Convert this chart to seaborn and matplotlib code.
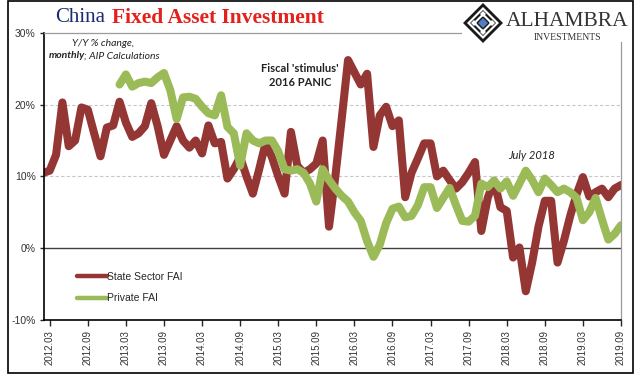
import numpy as np
import pandas as pd
import matplotlib
matplotlib.use("Agg")
import matplotlib.pyplot as plt
from matplotlib.patches import Polygon, Rectangle
from matplotlib.lines import Line2D
import seaborn as sns

# months counted from 2012.03 (=0); series starts 2012.02
month_idx = list(range(-1, 91))

state_fai = [10.5, 10.8, 13.0, 20.3, 14.2, 15.0, 19.6, 19.3, 16.0, 12.8,
             16.8, 17.1, 20.4, 17.5, 15.5, 16.0, 17.0, 20.2, 17.0, 13.0,
             15.0, 17.0, 15.0, 14.0, 15.0, 13.2, 17.1, 14.6, 14.8, 9.7,
             11.0, 12.7, 10.0, 7.6, 11.0, 14.6, 12.7, 10.0, 7.6, 16.2,
             11.5, 10.5, 11.0, 11.8, 15.0, 3.0, 10.0, 18.0, 26.2, 24.5,
             22.8, 24.3, 14.1, 18.5, 19.7, 17.0, 17.8, 7.1, 10.5, 12.5,
             14.6, 14.6, 10.0, 10.8, 9.5, 8.3, 9.2, 10.5, 12.0, 2.4,
             7.0, 9.4, 5.7, 5.2, -1.3, 0.1, -6.0, -2.0, 3.0, 6.6,
             6.6, -2.0, 1.0, 4.5, 7.5, 9.9, 7.2, 7.8, 8.3, 7.1,
             8.3, 8.8]

private_fai = [None] * 12 + [
    22.8, 24.2, 22.5, 23.0, 23.2, 23.0, 23.8, 24.4, 22.0, 18.0,
    21.0, 21.1, 20.8, 19.7, 18.8, 18.5, 21.3, 16.9, 16.0, 11.5,
    16.0, 15.0, 14.6, 15.0, 15.0, 13.5, 11.0, 10.8, 11.0, 10.5,
    9.0, 6.5, 11.0, 9.5, 8.3, 7.3, 6.5, 5.0, 3.8, 1.0,
    -1.2, 0.5, 3.5, 5.5, 5.8, 4.3, 4.5, 6.0, 8.5, 8.5,
    5.6, 7.0, 8.4, 6.0, 3.8, 3.7, 4.5, 9.0, 8.5, 9.4,
    8.3, 9.3, 7.3, 9.0, 10.8, 9.5, 7.8, 9.7, 8.8, 7.8,
    8.3, 7.8, 7.0, 3.9, 5.0, 7.0, 4.0, 1.2, 2.0, 3.2]

tick_months = list(range(0, 91, 6))
tick_labels = ["2012.03", "2012.09", "2013.03", "2013.09", "2014.03",
               "2014.09", "2015.03", "2015.09", "2016.03", "2016.09",
               "2017.03", "2017.09", "2018.03", "2018.09", "2019.03",
               "2019.09"]
y_ticks = [-10, 0, 10, 20, 30]
y_labels = ["-10%", "0%", "10%", "20%", "30%"]

RED = "#943634"
GREEN = "#9BBB59"

W, H = 640, 380


def fx(x):
    return x / W


def fy(y):
    return 1 - y / H


sns.set_style("white")
plt.rcParams["font.family"] = ["Liberation Sans", "DejaVu Sans"]

df = pd.DataFrame({
    "month": month_idx,
    "State Sector FAI": pd.array(state_fai, dtype="Float64"),
    "Private FAI": pd.array(private_fai, dtype="Float64"),
})
long_df = df.melt("month", var_name="series", value_name="value").dropna()
long_df["value"] = long_df["value"].astype(float)

fig = plt.figure(figsize=(6.4, 3.8), dpi=100)
ax = fig.add_axes([fx(44), fy(320), 577 / W, 287.2 / H])

sns.lineplot(data=long_df, x="month", y="value", hue="series",
             palette={"State Sector FAI": RED, "Private FAI": GREEN},
             linewidth=5.8, ax=ax, legend=False, estimator=None, sort=False)
for ln in ax.lines:
    ln.set_solid_joinstyle("round")
    ln.set_solid_capstyle("round")

ax.set_xlim(-0.9, 90)
ax.set_ylim(-10, 30)
ax.set_xlabel("")
ax.set_ylabel("")

# grid and zero line
for v in [10, 20]:
    ax.axhline(v, color="#c8c8c8", lw=0.8, ls=(0, (3, 2)), zorder=0)
ax.axhline(0, color="#404040", lw=1.0, zorder=1)

for side in ["left", "bottom"]:
    ax.spines[side].set_color("black")
    ax.spines[side].set_linewidth(1.2)
for side in ["top", "right"]:
    ax.spines[side].set_color("#9a9a9a")
    ax.spines[side].set_linewidth(0.9)

ax.set_yticks(y_ticks)
ax.set_yticklabels(y_labels, fontsize=7.5, color="#333333")
ax.set_xticks(tick_months)
ax.set_xticklabels(tick_labels, rotation=90, fontsize=7, color="#333333")
ax.tick_params(axis="y", direction="out", length=3, width=1, pad=3,
               left=True)
ax.tick_params(axis="x", direction="out", length=4, width=1, pad=3,
               bottom=True)

# legend
handles = [Line2D([], [], color=RED, lw=3.2),
           Line2D([], [], color=GREEN, lw=3.2)]
ax.legend(handles, ["State Sector FAI", "Private FAI"], loc="upper left",
          bbox_to_anchor=(0.057, 0.168), frameon=False, fontsize=7.5,
          handlelength=2.9, handletextpad=0.0, labelspacing=1.1,
          borderpad=0, borderaxespad=0)

# annotations
ann = ["Lato", "DejaVu Sans"]
fig.text(fx(103), fy(43), "Y/Y % change,", ha="center", va="center",
         fontsize=7.5, style="italic", family=ann, color="#222222")
fig.text(fx(49), fy(56), "monthly", ha="left", va="center", fontsize=7.5,
         style="italic", weight="bold", family=ann, color="#222222")
fig.text(fx(84), fy(56), "; AIP Calculations", ha="left", va="center",
         fontsize=7.5, style="italic", family=ann, color="#222222")
fig.text(fx(300), fy(68), "Fiscal 'stimulus'", ha="center", va="center",
         fontsize=8, weight="bold", family=ann, color="#222222")
fig.text(fx(300), fy(83), "2016 PANIC", ha="center", va="center",
         fontsize=8, weight="bold", family=ann, color="#222222")
fig.text(fx(532), fy(155), "July 2018", ha="center", va="center",
         fontsize=8, style="italic", family=ann, color="#222222")

# title
serif = ["Liberation Serif", "DejaVu Serif"]
fig.text(fx(55), fy(18), "China", ha="left", va="center", fontsize=15,
         family=serif, color="#1c2a6e")
fig.text(fx(112), fy(18), "Fixed Asset Investment", ha="left",
         va="center", fontsize=15.5, family=serif, weight="bold",
         color="#e3201b")

# logo area
fig.patches.append(Rectangle((fx(462), fy(42)), (W - 462) / W, 42 / H,
                             transform=fig.transFigure, facecolor="white",
                             edgecolor="none", zorder=5))


def diamond(cx, cy, r, color):
    pts = [(fx(cx), fy(cy - r)), (fx(cx + r), fy(cy)),
           (fx(cx), fy(cy + r)), (fx(cx - r), fy(cy))]
    fig.patches.append(Polygon(pts, closed=True, transform=fig.transFigure,
                               facecolor=color, edgecolor="none", zorder=6))


diamond(483, 23, 20, "#1a1a1a")
diamond(483, 23, 16, "white")
diamond(483, 23, 13, "#1a1a1a")
diamond(483, 23, 10, "white")
diamond(483, 23, 7, "#1a1a1a")
diamond(483, 23, 5, "#4f7fc0")
for dx, dy in [(-9, 0), (9, 0), (0, -9), (0, 9)]:
    diamond(483 + dx, 23 + dy, 3, "white")

fig.text(fx(567), fy(21), "ALHAMBRA", ha="center", va="center",
         fontsize=15.5, family=serif, color="#333333", zorder=7)
fig.text(fx(567), fy(38), "INVESTMENTS", ha="center", va="center",
         fontsize=7, family=serif, color="#333333", zorder=7)

# outer frame
fig.patches.append(Rectangle((fx(8), fy(373)), 625 / W, 372 / H,
                             transform=fig.transFigure, fill=False,
                             edgecolor="black", lw=1.2, zorder=8))

fig.savefig("out.png", dpi=100)
